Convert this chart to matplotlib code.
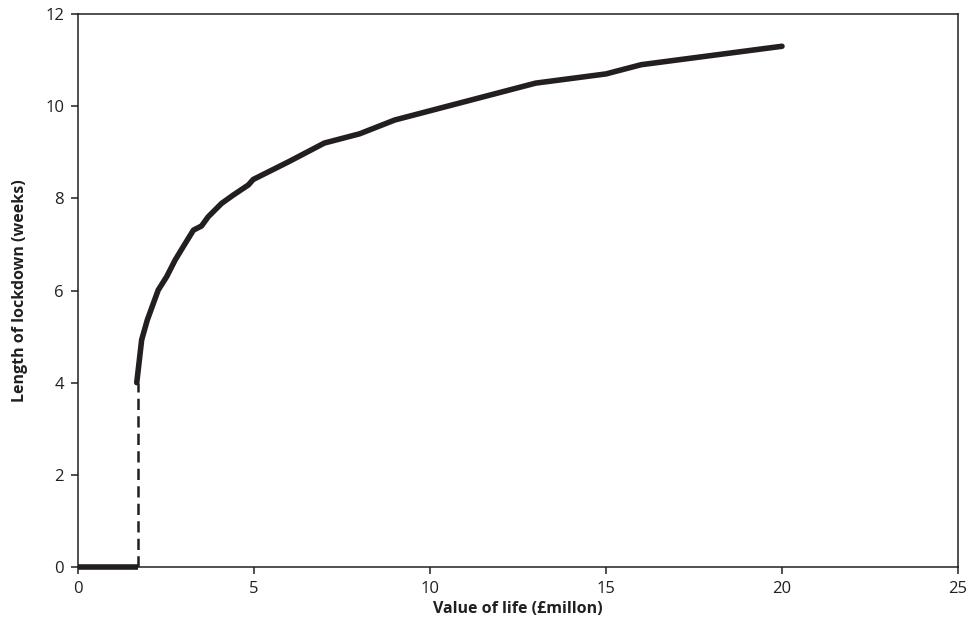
import matplotlib
matplotlib.use("Agg")
import matplotlib.pyplot as plt

# values
value_of_life = [1.67, 1.81, 1.97, 2.28, 2.52, 2.76, 2.99, 3.28, 3.51, 3.70,
                 4.08, 4.41, 4.84, 4.98, 6.0, 7.0, 8.0, 9.0, 10.0, 13.0,
                 15.0, 16.0, 17.0, 20.0]
lockdown_weeks = [4.0, 4.93, 5.36, 6.01, 6.30, 6.66, 6.95, 7.31, 7.40, 7.60,
                  7.89, 8.07, 8.29, 8.41, 8.8, 9.2, 9.4, 9.7, 9.9, 10.5,
                  10.7, 10.9, 11.0, 11.3]
threshold = 1.7
zero_x = [0, threshold]
zero_y = [0, 0]

plt.rcParams["font.family"] = ["Open Sans", "DejaVu Sans"]

fig = plt.figure(figsize=(9.72, 6.37), dpi=100)
ax = fig.add_axes([0.0802, 0.1099, 0.9054, 0.8681])

ax.plot(value_of_life, lockdown_weeks, color="#231f20", lw=4.0,
        solid_capstyle="round", solid_joinstyle="round")
ax.plot(zero_x, zero_y, color="#231f20", lw=4.0, solid_capstyle="butt", clip_on=False)
ax.plot([threshold, threshold], [0, lockdown_weeks[0]], color="#231f20", lw=1.8,
        ls=(0, (4.5, 2.5)))

ax.set_xlim(0, 25)
ax.set_ylim(0, 12)
ax.set_xticks(range(0, 26, 5))
ax.set_yticks(range(0, 13, 2))
ax.tick_params(direction="out", length=5, width=1.1, labelsize=12,
               colors="#231f20", pad=5)
for s in ax.spines.values():
    s.set_linewidth(1.1)
    s.set_color("#231f20")

ax.set_xlabel("Value of life (£millon)", fontsize=11.5, fontweight="bold",
              color="#231f20", labelpad=3)
ax.set_ylabel("Length of lockdown (weeks)", fontsize=11.5, fontweight="bold",
              color="#231f20", labelpad=12)

fig.savefig("out.png", dpi=100)
